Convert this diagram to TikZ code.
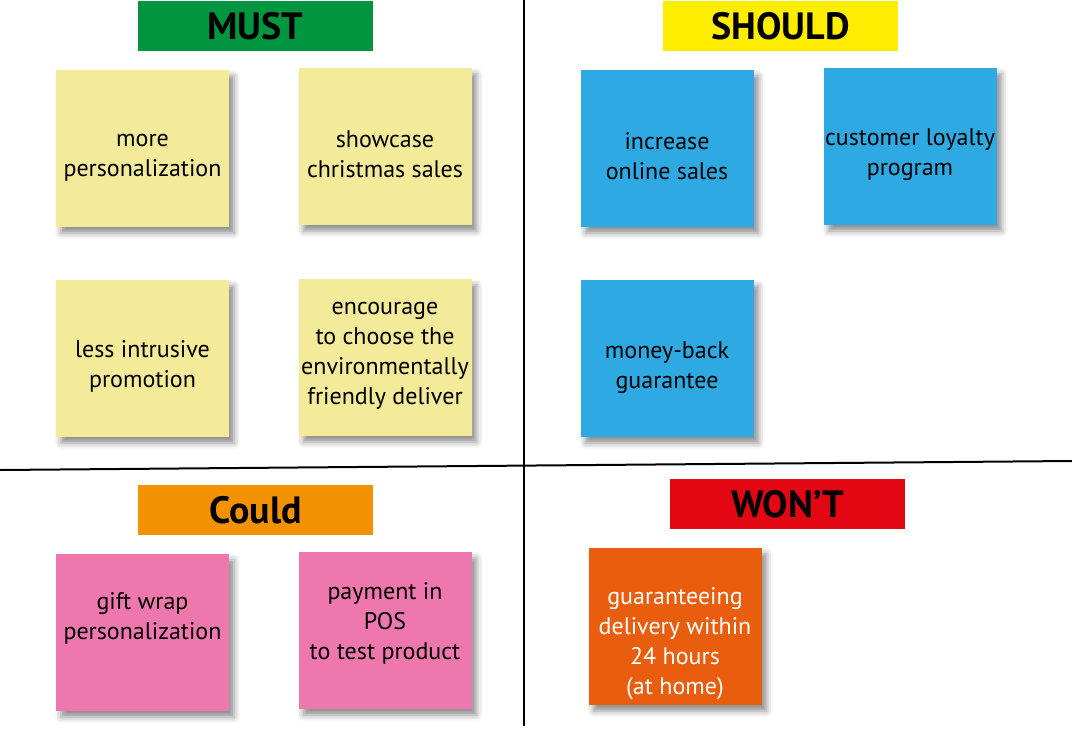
\documentclass[tikz,border=0pt]{standalone}
\usepackage{fontspec}
\setmainfont{PT Sans}
\usetikzlibrary{shadows.blur}
\definecolor{mustc}{HTML}{009640}
\definecolor{shouldc}{HTML}{FFED00}
\definecolor{couldc}{HTML}{F39200}
\definecolor{wontc}{HTML}{E30613}
\definecolor{yel}{HTML}{F3EB9A}
\definecolor{blu}{HTML}{2EA9E1}
\definecolor{pnk}{HTML}{EE78AE}
\definecolor{org}{HTML}{E95D0F}
\tikzset{
  header/.style={minimum width=235pt, minimum height=50pt, inner sep=0pt, font=\fontsize{38}{40}\selectfont\bfseries, text=black},
  note/.style={minimum width=173pt, minimum height=157pt, inner sep=0pt,
    blur shadow={shadow xshift=5pt, shadow yshift=-6pt, shadow blur radius=6pt, shadow opacity=45}},
  notetext/.style={inner sep=0pt, align=center, font=\fontsize{24}{30}\selectfont, text=black},
  divider/.style={line width=2pt, black}
}
\begin{document}
\begin{tikzpicture}[x=1pt,y=-1pt]
\useasboundingbox (0,0) rectangle (1072,736);
\coordinate (vt) at (524,0);
\coordinate (vb) at (524,726);
\coordinate (hl) at (0,470);
\coordinate (hr) at (1072,461);
\draw[divider] (vt) -- (vb);
\draw[divider] (hl) -- (hr);

\node[header, fill=mustc] (must) at (255.5,26) {MUST};
\node[header, fill=shouldc] (should) at (780.5,26) {SHOULD};
\node[header, fill=couldc] (could) at (255.5,510) {Could};
\node[header, fill=wontc] (wont) at (787.5,504) {WON’T};

\node[note, fill=yel] (n1) at (142.5,148.5) {};
\node[note, fill=yel] (n2) at (385,146.5) {};
\node[note, fill=yel] (n3) at (142.5,358.5) {};
\node[note, fill=yel] (n4) at (385,357.5) {};
\node[note, fill=blu] (n5) at (667,148.5) {};
\node[note, fill=blu] (n6) at (910,146.5) {};
\node[note, fill=blu] (n7) at (667,358.5) {};
\node[note, fill=pnk] (n8) at (142.5,632.5) {};
\node[note, fill=pnk] (n9) at (385,630.5) {};
\node[note, fill=org] (n10) at (675,626.5) {};

\node[notetext, yshift=-9.5pt] (t1) at (n1.center) {more\\personalization};
\node[notetext, yshift=-7.5pt] (t2) at (n2.center) {showcase\\christmas sales};
\node[notetext, yshift=-8pt] (t3) at (n3.center) {less intrusive\\promotion};
\node[notetext, yshift=2pt] (t4) at (n4.center) {encourage\\to choose the\\environmentally\\friendly deliver};
\node[notetext, yshift=-7.5pt] (t5) at (n5.center) {increase\\online sales};
\node[notetext, yshift=-8pt] (t6) at (n6.center) {customer loyalty\\program};
\node[notetext, yshift=-9pt] (t7) at (n7.center) {money-back\\guarantee};
\node[notetext, yshift=14.5pt] (t8) at (n8.center) {gift wrap\\personalization};
\node[notetext, yshift=7pt] (t9) at (n9.center) {payment in\\POS\\to test product};
\node[notetext, text=white, yshift=-17pt] (t10) at (n10.center) {guaranteeing\\delivery within\\24 hours\\(at home)};
\end{tikzpicture}
\end{document}
